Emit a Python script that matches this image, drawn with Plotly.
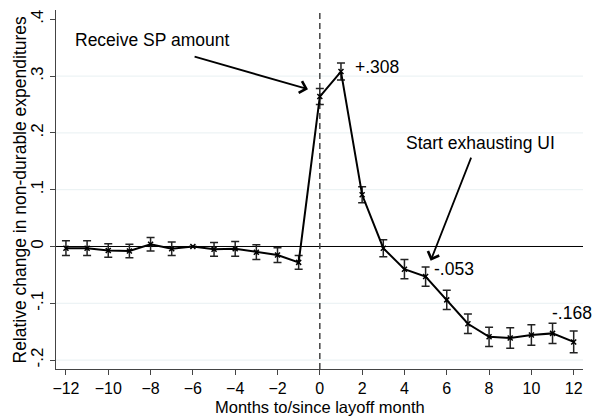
import plotly.graph_objects as go

months = list(range(-12, 13))
coef = [-0.003, -0.003, -0.007, -0.008, 0.004, -0.004, 0.0, -0.005, -0.004, -0.010, -0.015, -0.028,
        0.264, 0.308, 0.091, -0.003, -0.040, -0.053, -0.094, -0.136, -0.159, -0.161, -0.156, -0.153, -0.168]
ci_half = [0.013, 0.013, 0.012, 0.012, 0.012, 0.012, 0.0, 0.012, 0.013, 0.013, 0.013, 0.012,
           0.014, 0.015, 0.014, 0.015, 0.017, 0.017, 0.017, 0.017, 0.017, 0.018, 0.018, 0.018, 0.019]

ytick_vals = [-0.2, -0.1, 0, 0.1, 0.2, 0.3, 0.4]
ytick_text = ["-.2", "-.1", "0", ".1", ".2", ".3", ".4"]
xtick_vals = list(range(-12, 13, 2))
grid_vals = [-0.2, -0.1, 0.1, 0.2, 0.3]

labelled = {1: "+.308", 5: "-.053", 12: "-.168"}
label_shift = {1: (12, 5, "left"), 5: (6, 8, "left"), 12: (-2, 29, "center")}

x_title = "Months to/since layoff month"
y_title = "Relative change in non-durable expenditures"

FONT = "Liberation Sans, Arial, Helvetica, sans-serif"
FS = 17.5
TFS = 16
XTFS = 16.5
BOTTOM = 48

fig = go.Figure()
fig.add_trace(go.Scatter(
    x=months, y=coef, mode="lines+markers",
    line=dict(color="black", width=2),
    marker=dict(symbol="x-thin", size=5, color="black", line=dict(color="black", width=1.5)),
    error_y=dict(type="data", array=ci_half, visible=True, color="#222", thickness=1.5, width=4),
    showlegend=False, hoverinfo="skip"))

shapes = []
for g in grid_vals:
    shapes.append(dict(type="line", xref="paper", yref="y", x0=0, x1=1, y0=g, y1=g,
                       line=dict(color="#e8f0f2", width=1), layer="below"))
shapes.append(dict(type="line", xref="paper", yref="y", x0=0, x1=1, y0=0, y1=0,
                   line=dict(color="black", width=1), layer="below"))
shapes.append(dict(type="line", xref="x", yref="paper", x0=0, x1=0, y0=0, y1=1,
                   line=dict(color="#444", width=1.5, dash="6px,4px"), layer="below"))

annotations = []
for m, t in labelled.items():
    dx, dy, anc = label_shift[m]
    annotations.append(dict(x=m, y=coef[months.index(m)], text=t, showarrow=False,
                            xanchor=anc, yanchor="middle", xshift=dx, yshift=dy,
                            font=dict(family=FONT, size=FS, color="black")))
annotations.append(dict(x=-11.68, y=0.3636, text="Receive SP amount", showarrow=False,
                        xanchor="left", yanchor="middle",
                        font=dict(family=FONT, size=FS, color="black")))
annotations.append(dict(x=3.98, y=0.182, text="Start exhausting UI", showarrow=False,
                        xanchor="left", yanchor="middle",
                        font=dict(family=FONT, size=FS, color="black")))
annotations.append(dict(x=-0.56, y=0.277, ax=-5.99, ay=0.335, axref="x", ayref="y",
                        text="", showarrow=True, arrowhead=4, arrowsize=1.3, arrowwidth=1.8,
                        arrowcolor="black", standoff=0))
annotations.append(dict(x=5.24, y=-0.025, ax=7.18, ay=0.159, axref="x", ayref="y",
                        text="", showarrow=True, arrowhead=4, arrowsize=1.3, arrowwidth=1.8,
                        arrowcolor="black", standoff=0))
# axis titles
annotations.append(dict(x=0.5, y=0, xref="paper", yref="paper", text=x_title,
                        showarrow=False, xanchor="center", yanchor="bottom", borderpad=0,
                        yshift=-BOTTOM,
                        font=dict(family=FONT, size=XTFS, color="black")))
annotations.append(dict(x=-0.0702, y=0.5, xref="paper", yref="paper", text=y_title,
                        showarrow=False, xanchor="center", yanchor="middle", textangle=-90,
                        font=dict(family=FONT, size=FS, color="black")))

fig.update_layout(
    width=593, height=417,
    margin=dict(l=56, r=10, t=10, b=BOTTOM),
    paper_bgcolor="white", plot_bgcolor="white",
    font=dict(family=FONT, size=FS, color="black"),
    shapes=shapes, annotations=annotations,
    xaxis=dict(range=[-12.47, 12.44], tickvals=xtick_vals, showgrid=False, zeroline=False,
               automargin=False,
               showline=True, linecolor="#444", linewidth=1.2, ticks="outside", ticklen=5,
               tickcolor="#444", tickwidth=1.2, tickfont=dict(size=TFS)),
    yaxis=dict(range=[-0.2157, 0.4164], tickvals=ytick_vals, ticktext=ytick_text, showgrid=False,
               automargin=False,
               zeroline=False, showline=True, linecolor="#444", linewidth=1.2, ticks="outside",
               ticklen=5, tickcolor="#444", tickwidth=1.2, tickangle=-90, tickfont=dict(size=17)),
)

fig.write_html("out.html")
